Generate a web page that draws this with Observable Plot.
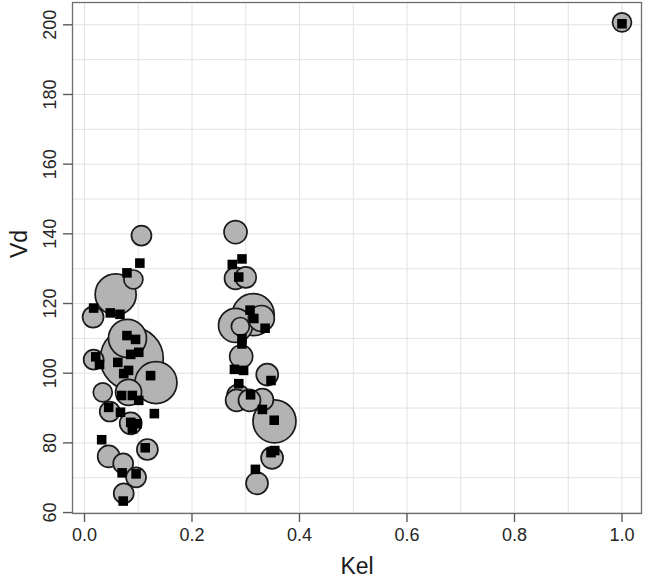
<!DOCTYPE html>
<html>
<head>
<meta charset="utf-8">
<script src="https://cdn.jsdelivr.net/npm/d3@7"></script>
<script src="https://cdn.jsdelivr.net/npm/@observablehq/plot@0.6"></script>
<style>
  html, body { margin: 0; padding: 0; background: #ffffff; }
  #chart { width: 645px; height: 577px; }
</style>
</head>
<body>
<div id="chart"></div>
<script>
// ---- data ----
const circleKel = [0.106, 0.091, 0.058, 0.016, 0.080, 0.088, 0.133, 0.017, 0.034, 0.082,
                   0.047, 0.086, 0.117, 0.045, 0.072, 0.096, 0.073,
                   0.281, 0.281, 0.300, 0.314, 0.281, 0.290, 0.329, 0.2915, 0.340, 0.2856,
                   0.283, 0.331, 0.307, 0.3535, 0.349, 0.321,
                   1.0];
const circleVd  = [139.5, 126.9, 122.6, 116.1, 110.0, 104.2, 97.3, 103.9, 94.5, 94.5,
                   89.0, 85.6, 78.1, 76.1, 74.1, 70.1, 65.5,
                   140.5, 127.2, 127.5, 116.8, 113.7, 113.4, 115.7, 104.8, 99.6, 93.6,
                   92.2, 92.4, 92.2, 86.2, 75.7, 68.4,
                   200.7];
const circleSize = [10, 9.5, 20.5, 10.5, 19, 31.5, 21, 10, 9.5, 13,
                    10, 11, 10.5, 11, 10, 10, 10,
                    11.5, 11, 10.5, 21, 17, 9, 13, 11.5, 11, 11,
                    11, 11, 11, 21.5, 11, 11,
                    9.5];

const squareKel = [0.103, 0.079, 0.017, 0.048, 0.066, 0.079, 0.095, 0.021, 0.028, 0.062,
                   0.086, 0.101, 0.073, 0.082, 0.123, 0.069, 0.089, 0.101, 0.045, 0.067,
                   0.086, 0.098, 0.089, 0.130, 0.032, 0.113, 0.070, 0.096, 0.072,
                   0.293, 0.275, 0.287, 0.308, 0.315, 0.336, 0.293, 0.293, 0.279, 0.296,
                   0.347, 0.287, 0.309, 0.331, 0.353, 0.354, 0.347, 0.318,
                   1.0];
const squareVd  = [131.6, 128.8, 118.7, 117.3, 116.9, 110.8, 109.7, 104.7, 102.5, 103.1,
                   105.4, 106.0, 99.9, 100.8, 99.3, 93.6, 93.6, 92.2, 90.2, 88.8,
                   85.9, 85.5, 84.0, 88.4, 80.9, 78.6, 71.4, 71.1, 63.3,
                   132.8, 131.2, 127.6, 118.1, 115.7, 112.9, 109.9, 108.4, 101.1, 100.8,
                   97.9, 97.0, 93.8, 89.6, 86.5, 77.8, 77.2, 72.4,
                   200.3];

const xTicks = [0.0, 0.2, 0.4, 0.6, 0.8, 1.0];
const xMinor = [0.0, 0.1, 0.2, 0.3, 0.4, 0.5, 0.6, 0.7, 0.8, 0.9, 1.0];
const yTicks = [60, 80, 100, 120, 140, 160, 180, 200];
const yMinor = [60, 70, 80, 90, 100, 110, 120, 130, 140, 150, 160, 170, 180, 190, 200];
const xTitle = "Kel";
const yTitle = "Vd";

// ---- tables built from the arrays ----
const circles = circleKel.map((k, i) => ({Kel: k, Vd: circleVd[i], size: circleSize[i]}));
const squares = squareKel.map((k, i) => ({Kel: k, Vd: squareVd[i]}));

const font = "'Liberation Sans', Arial, Helvetica, sans-serif";
const axisGrey = "#5a5a5a";

const chart = Plot.plot({
  width: 645,
  height: 577,
  marginLeft: 72,
  marginTop: 2,
  marginRight: 4,
  marginBottom: 64,
  style: {fontFamily: font, background: "#ffffff", color: "#262626"},
  x: {domain: [-0.0223, 1.0363]},
  y: {domain: [59.73, 206.4]},
  r: {type: "linear", domain: [0, 30], range: [0, 30]},
  marks: [
    Plot.gridX(xMinor, {stroke: "#e2e2e2", strokeOpacity: 1, strokeWidth: 1}),
    Plot.gridY(yMinor, {stroke: "#e2e2e2", strokeOpacity: 1, strokeWidth: 1}),
    Plot.frame({stroke: "#6e6e6e", strokeWidth: 1.3}),
    Plot.axisX(xTicks, {
      tickSize: 9, tickPadding: 6, fontSize: 18,
      tickFormat: d3.format(".1f"), label: null,
      stroke: axisGrey, strokeWidth: 1.4
    }),
    Plot.axisY(yTicks, {
      tickSize: 9, tickFormat: () => "", label: null,
      stroke: axisGrey, strokeWidth: 1.4
    }),
    Plot.text(yTicks, {
      y: d => d, text: d => String(d), frameAnchor: "left",
      dx: -17, rotate: -90, lineAnchor: "bottom", textAnchor: "middle",
      fontSize: 18, fill: "#262626"
    }),
    Plot.text([xTitle], {
      text: d => d, frameAnchor: "bottom", dy: 60, lineAnchor: "bottom",
      fontSize: 23, fill: "#1a1a1a"
    }),
    Plot.text([yTitle], {
      text: d => d, frameAnchor: "left", dx: -46, rotate: -90,
      lineAnchor: "bottom", fontSize: 23, fill: "#1a1a1a"
    }),
    Plot.dot(circles, {
      x: "Kel", y: "Vd", r: "size",
      fill: "#b3b3b3", fillOpacity: 1, stroke: "#1a1a1a", strokeWidth: 1.7
    }),
    Plot.dot(squares, {
      x: "Kel", y: "Vd", symbol: "square", r: 5.4,
      fill: "#000000", stroke: "none"
    })
  ]
});
document.getElementById("chart").appendChild(chart);
</script>
</body>
</html>
